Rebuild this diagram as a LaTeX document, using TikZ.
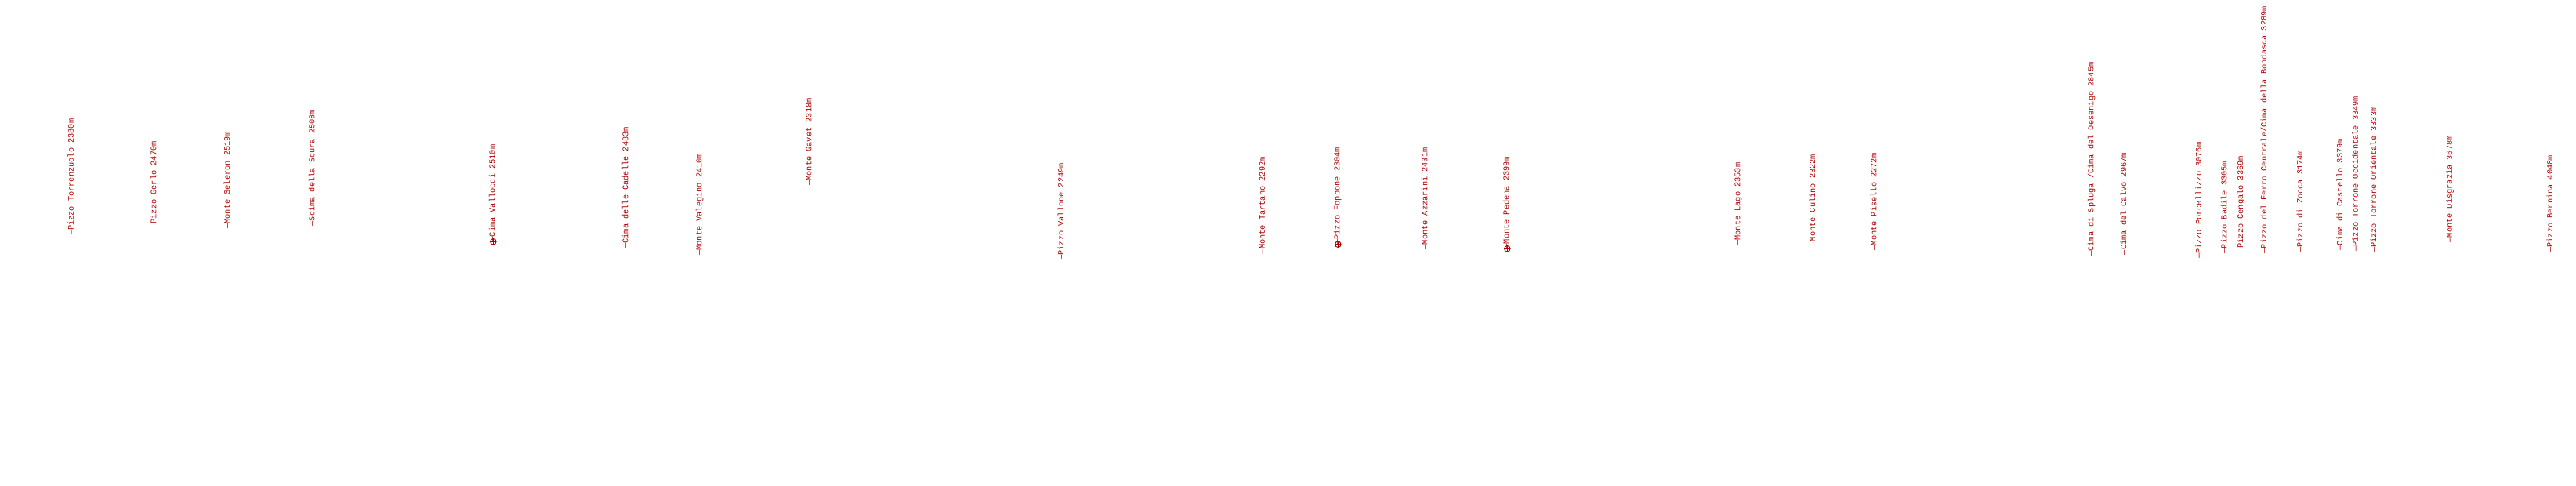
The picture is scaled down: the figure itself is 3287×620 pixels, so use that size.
\documentclass[tikz,border=0pt]{standalone}
\usepackage{fontspec}
\setmonofont{Liberation Mono}
\definecolor{peakred}{RGB}{170,0,0}
\begin{document}
\begin{tikzpicture}[x=1pt,y=1pt,
  peak/.style={rotate=90, anchor=mid west, inner sep=0pt, outer sep=0pt,
    text=peakred, font=\ttfamily\fontsize{10.3}{12}\selectfont},
  summit/.style={circle, draw=peakred, line width=1pt, minimum size=7.5pt, inner sep=0pt,
    path picture={\draw[peakred, line width=0.8pt]
      (path picture bounding box.north) -- (path picture bounding box.south)
      (path picture bounding box.west) -- (path picture bounding box.east);}}]
\useasboundingbox (0,0) rectangle (3287,-620);
\node[peak] (p1) at (91.7,-300) {—Pizzo Torrenzuolo 2380m};
\node[peak] (p2) at (197.3,-291.7) {—Pizzo Gerlo 2470m};
\node[peak] (p3) at (291,-291.7) {—Monte Seleron 2519m};
\node[peak] (p4) at (399.3,-288.3) {—Scima della Scura 2508m};
\node[summit] (m5) at (629.3,-308.3) {};
\node[peak] (p5) at (m5.center) {—Cima Vallocci 2510m};
\node[peak] (p6) at (799.3,-316.7) {—Cima delle Cadelle 2483m};
\node[peak] (p7) at (893.3,-325.7) {—Monte Valegino 2410m};
\node[peak] (p8) at (1033.3,-236.7) {—Monte Gavet 2318m};
\node[peak] (p9) at (1355,-331.7) {—Pizzo Vallone 2249m};
\node[peak] (p10) at (1611.7,-324) {—Monte Tartano 2292m};
\node[summit] (m11) at (1707.3,-311.7) {};
\node[peak] (p11) at (m11.center) {—Pizzo Foppone 2304m};
\node[peak] (p12) at (1819.3,-318.3) {—Monte Azzarini 2431m};
\node[summit] (m13) at (1923.3,-317.3) {};
\node[peak] (p13) at (m13.center) {—Monte Pedena 2399m};
\node[peak] (p14) at (2218.3,-312.7) {—Monte Lago 2353m};
\node[peak] (p15) at (2314,-314.3) {—Monte Culino 2322m};
\node[peak] (p16) at (2392.3,-319.3) {—Monte Pisello 2272m};
\node[peak] (p17) at (2669.3,-326.7) {—Cima di Spluga /Cima del Desenigo 2845m};
\node[peak] (p18) at (2711,-325) {—Cima del Calvo 2967m};
\node[peak] (p19) at (2806.7,-330) {—Pizzo Porcellizzo 3076m};
\node[peak] (p20) at (2839.3,-323.3) {—Pizzo Badile 3305m};
\node[peak] (p21) at (2860,-322.7) {—Pizzo Cengalo 3369m};
\node[peak] (p22) at (2890,-323.3) {—Pizzo del Ferro Centrale/Cima della Bondasca 3289m};
\node[peak] (p23) at (2936,-321.7) {—Pizzo di Zocca 3174m};
\node[peak] (p24) at (2986.7,-319.3) {—Cima di Castello 3379m};
\node[peak] (p25) at (3006.7,-320.7) {—Pizzo Torrone Occidentale 3349m};
\node[peak] (p26) at (3030,-322) {—Pizzo Torrone Orientale 3333m};
\node[peak] (p27) at (3126.7,-309.3) {—Monte Disgrazia 3678m};
\node[peak] (p28) at (3255,-321.7) {—Pizzo Bernina 4048m};
\end{tikzpicture}
\end{document}
